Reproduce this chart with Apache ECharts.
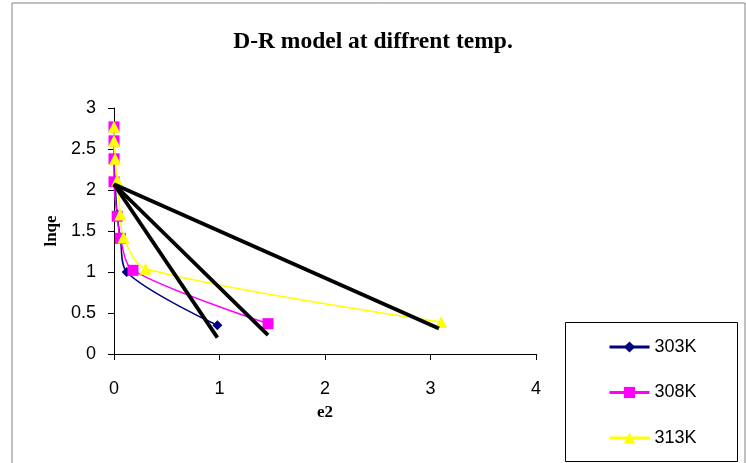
<!DOCTYPE html>
<html><head><meta charset="utf-8">
<script src="https://cdn.jsdelivr.net/npm/echarts@6/dist/echarts.min.js"></script>
<style>html,body{margin:0;padding:0;background:#fff}#c{width:746px;height:463px}</style>
</head><body><div id="c"></div>
<script>
const xTicks = [0, 1, 2, 3, 4];
const yTicks = [0, 0.5, 1, 1.5, 2, 2.5, 3];
const seriesNames = ['303K', '308K', '313K'];
const e2_303 = [0.0, 0.0, 0.0, 0.01, 0.03, 0.06, 0.12, 0.98];
const lnqe_303 = [2.77, 2.6, 2.38, 2.1, 1.7, 1.42, 1.0, 0.35];
const e2_308 = [0.0, 0.0, 0.0, 0.0, 0.03, 0.06, 0.18, 1.46];
const lnqe_308 = [2.77, 2.6, 2.38, 2.1, 1.68, 1.41, 1.02, 0.37];
const e2_313 = [0.0, 0.0, 0.01, 0.03, 0.06, 0.09, 0.3, 3.1];
const lnqe_313 = [2.77, 2.6, 2.38, 2.12, 1.7, 1.42, 1.04, 0.39];
const fit_303_x = [0, 0.98], fit_303_y = [2.07, 0.2];
const fit_308_x = [0, 1.46], fit_308_y = [2.07, 0.23];
const fit_313_x = [0, 3.08], fit_313_y = [2.07, 0.31];

const zip = (xs, ys) => xs.map((x, i) => [x, ys[i]]);
const chart = echarts.init(document.getElementById('c'));
const axisFont = {fontFamily: 'Liberation Sans', fontSize: 18, color: '#000'};
const fitStyle = {color: '#000', width: 3.8};
chart.setOption({
  animation: false,
  backgroundColor: '#fff',
  title: {text: 'D-R model at diffrent temp.', left: 'center', top: 25,
    textStyle: {fontFamily: 'Liberation Serif', fontWeight: 'bold', fontSize: 23.5, color: '#000'}},
  graphic: [
    {type: 'rect', shape: {x: 12, y: 3, width: 733, height: 470}, style: {fill: 'none', stroke: '#808080', lineWidth: 1}, silent: true},
    {type: 'rect', shape: {x: 565.5, y: 322.5, width: 172, height: 139}, style: {fill: 'none', stroke: '#000', lineWidth: 1}, silent: true}
  ],
  legend: {orient: 'vertical', left: 608, top: 338, height: 120, itemGap: 27.5, itemWidth: 40, itemHeight: 14,
    data: seriesNames, padding: 0, lineStyle: {width: 3},
    textStyle: {fontFamily: 'Liberation Sans', fontSize: 18, lineHeight: 18, color: '#000'}},
  grid: {left: 114, right: 210, top: 108, bottom: 109},
  xAxis: {type: 'value', min: xTicks[0], max: xTicks[xTicks.length - 1], interval: 1,
    name: 'e2', nameLocation: 'middle', nameGap: 50,
    nameTextStyle: {fontFamily: 'Liberation Serif', fontWeight: 'bold', fontSize: 17, color: '#000'},
    axisLine: {lineStyle: {color: '#000', width: 1}},
    axisTick: {show: true, length: 6, lineStyle: {color: '#000'}},
    axisLabel: Object.assign({margin: 26}, axisFont),
    splitLine: {show: false}},
  yAxis: {type: 'value', min: yTicks[0], max: yTicks[yTicks.length - 1], interval: 0.5,
    name: 'lnqe', nameLocation: 'middle', nameGap: 54, nameRotate: 90,
    nameTextStyle: {fontFamily: 'Liberation Serif', fontWeight: 'bold', fontSize: 17, color: '#000'},
    axisLine: {show: true, lineStyle: {color: '#000', width: 1}},
    axisTick: {show: true, length: 6, lineStyle: {color: '#000'}},
    axisLabel: Object.assign({margin: 18}, axisFont),
    splitLine: {show: false}},
  series: [
    {name: '303K', type: 'line', data: zip(e2_303, lnqe_303), smooth: 0.3,
      symbol: 'diamond', symbolSize: 10, color: '#000080', lineStyle: {width: 1.5, color: '#000080'}},
    {name: '308K', type: 'line', data: zip(e2_308, lnqe_308), smooth: 0.3,
      symbol: 'rect', symbolSize: 11, color: '#FF00FF', lineStyle: {width: 1.5, color: '#FF00FF'}},
    {name: '313K', type: 'line', data: zip(e2_313, lnqe_313), smooth: 0.3,
      symbol: 'triangle', symbolSize: 12, color: '#FFFF00', lineStyle: {width: 1.5, color: '#FFFF00'}},
    {name: 'fit1', type: 'line', data: zip(fit_303_x, fit_303_y), symbol: 'none', lineStyle: fitStyle, z: 5},
    {name: 'fit2', type: 'line', data: zip(fit_308_x, fit_308_y), symbol: 'none', lineStyle: fitStyle, z: 5},
    {name: 'fit3', type: 'line', data: zip(fit_313_x, fit_313_y), symbol: 'none', lineStyle: fitStyle, z: 5}
  ]
});
</script></body></html>
